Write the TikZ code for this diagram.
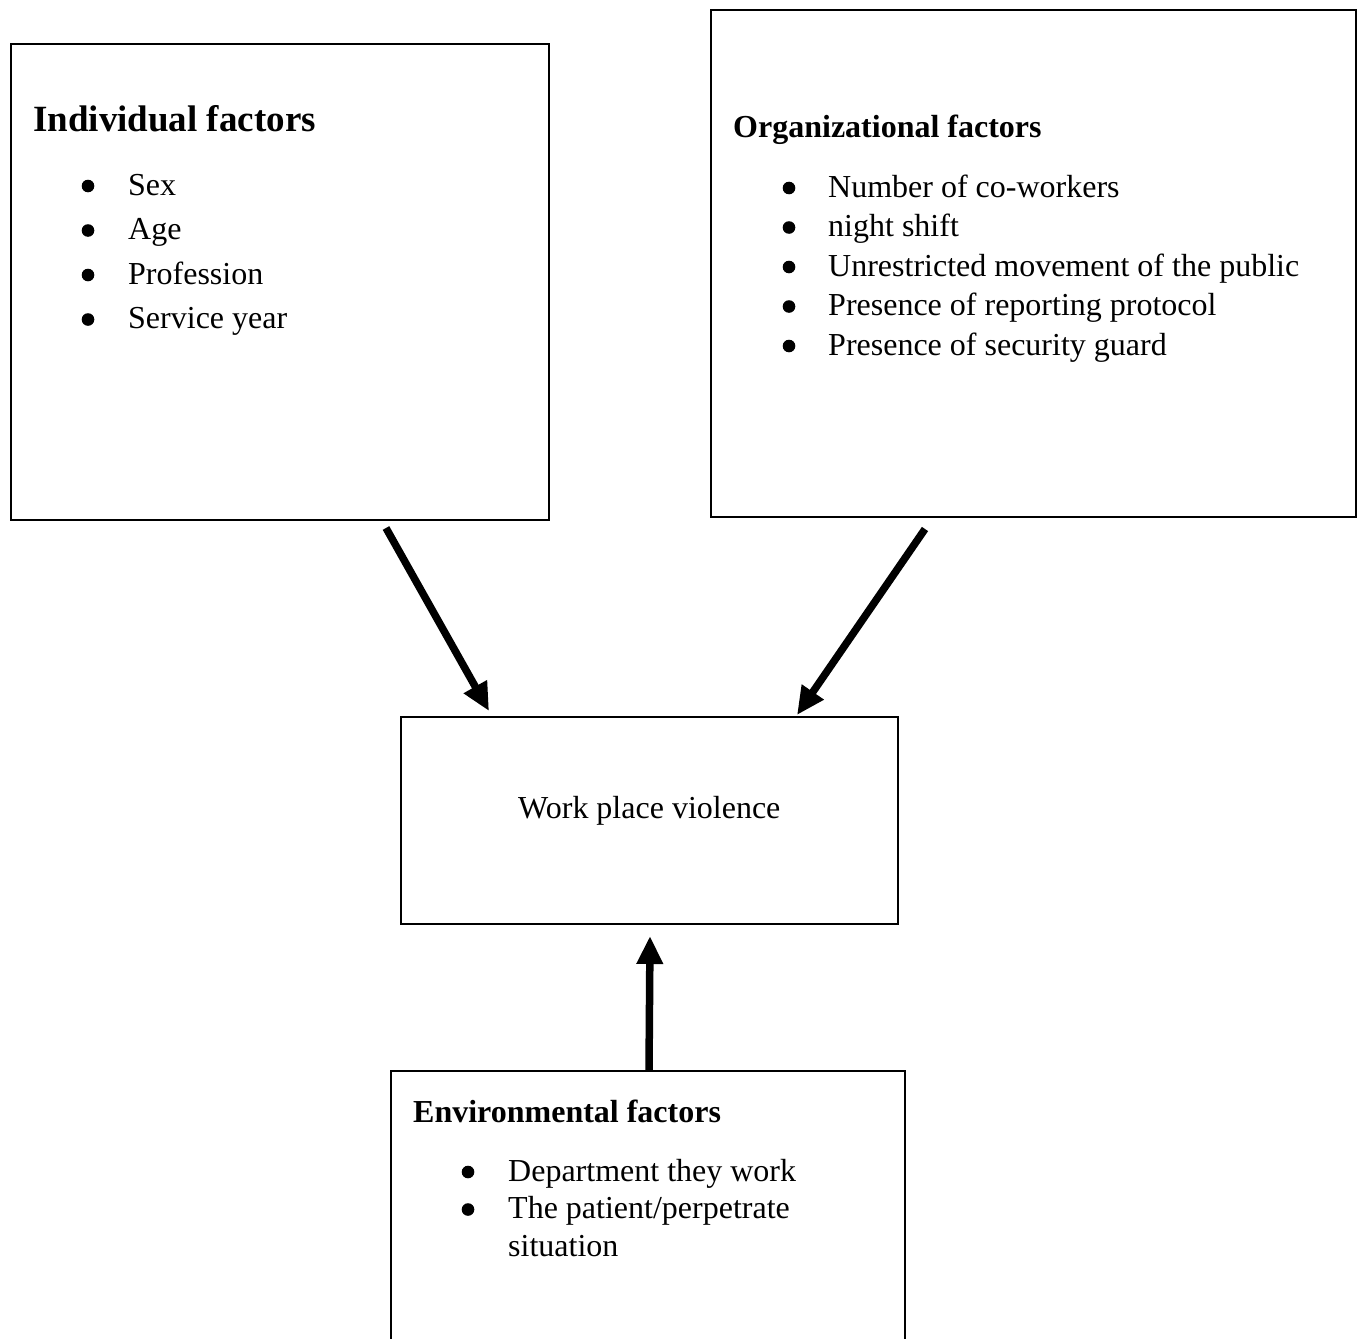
\documentclass[tikz,border=0pt]{standalone}
\usepackage{fontspec}
\setmainfont{Liberation Serif}
\usetikzlibrary{arrows.meta}
\tikzset{
  box/.style={draw=black, line width=2.8pt, rectangle, inner sep=0pt, outer sep=0pt},
  txt/.style={anchor=base west, inner sep=0pt, font=\fontsize{32}{38}\selectfont},
  ttl/.style={anchor=base west, inner sep=0pt, font=\fontsize{32}{38}\selectfont\bfseries},
  bigttl/.style={anchor=base west, inner sep=0pt, font=\fontsize{37}{44}\selectfont\bfseries},
  conn/.style={line width=7.5pt, -{Triangle[length=28pt,width=25pt]}},
}
\newcommand{\bul}[2]{\fill (#1,#2) circle (6.3);}
\begin{document}
\begin{tikzpicture}[x=1pt,y=-1pt]
\clip (0,0) rectangle (1359,1338);
\fill[white] (0,0) rectangle (1359,1338);

% boxes
\node[box, minimum width=538, minimum height=476] (ind) at (280,282) {};
\node[box, minimum width=645, minimum height=507] (org) at (1033.5,263.5) {};
\node[box, minimum width=497, minimum height=207] (wpv) at (649.5,820.5) {};
\node[box, minimum width=514, minimum height=290] (env) at (648,1216) {};

% individual
\node[bigttl] (indt) at (33,131) {Individual factors};
\node[txt] (ind1) at (128,195) {Sex};
\node[txt] (ind2) at (128,239.5) {Age};
\node[txt] (ind3) at (128,284) {Profession};
\node[txt] (ind4) at (128,328.5) {Service year};
\bul{88}{186}\bul{88}{230.5}\bul{88}{275}\bul{88}{319.5}

% organizational
\node[ttl] (orgt) at (733,137) {Organizational factors};
\node[txt] (org1) at (828,197) {Number of co-workers};
\node[txt] (org2) at (828,236.5) {night shift};
\node[txt] (org3) at (828,276) {Unrestricted movement of the public};
\node[txt] (org4) at (828,315.5) {Presence of reporting protocol};
\node[txt] (org5) at (828,355) {Presence of security guard};
\bul{789}{188}\bul{789}{227.5}\bul{789}{267}\bul{789}{306.5}\bul{789}{346}

% work place violence
\node[txt] (wpvt) at (518,818) {Work place violence};

% environmental
\node[ttl] (envt) at (413,1122) {Environmental factors};
\node[txt] (env1) at (508,1181) {Department they work};
\node[txt] (env2) at (508,1218.5) {The patient/perpetrate};
\node[txt] (env3) at (508,1256) {situation};
\bul{468}{1172}\bul{468}{1209.5}

% connectors
\coordinate (a1s) at (386,528);
\coordinate (a1e) at (489,711);
\coordinate (a2s) at (925,529);
\coordinate (a2e) at (797,715);
\coordinate (a3s) at (649,1071);
\coordinate (a3e) at (650,936);
\draw[conn] (a1s) -- (a1e);
\draw[conn] (a2s) -- (a2e);
\draw[conn] (a3s) -- (a3e);
\end{tikzpicture}
\end{document}
